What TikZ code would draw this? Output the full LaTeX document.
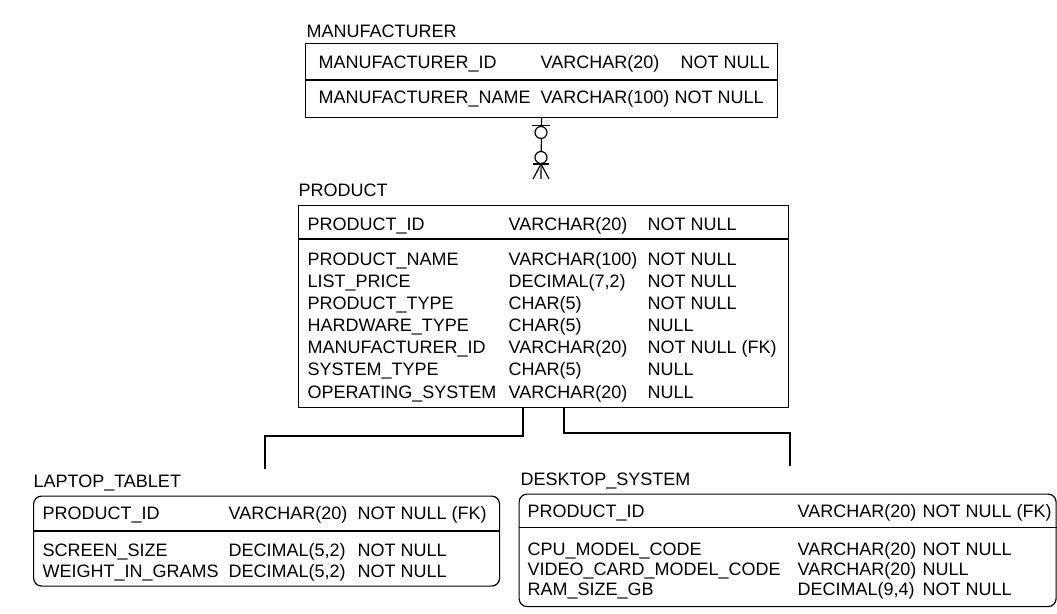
\documentclass[tikz,border=0pt]{standalone}
\usepackage{fontspec}
\setmainfont{Liberation Sans}
\begin{document}
\begin{tikzpicture}[x=1pt,y=-1pt,line width=1.2pt,
  every node/.style={font=\fontsize{18}{22}\selectfont,inner sep=0pt},
  txt/.style={anchor=base west},
  tablebox/.style={draw,anchor=north west}]
\useasboundingbox (0,0) rectangle (1057,613);
% MANUFACTURER
\node[txt] (mfr-title) at (306,37.5) {MANUFACTURER};
\node[tablebox,minimum width=472pt,minimum height=74pt] (mfr) at (305,43) {};
\draw (mfr.west |- 0,80) -- (mfr.east |- 0,80);
\node[txt] (mfr-k1) at (318,68) {MANUFACTURER\_ID};
\node[txt] (mfr-k2) at (540,68) {VARCHAR(20)};
\node[txt] (mfr-k3) at (680,68) {NOT NULL};
\node[txt] (mfr-a1) at (318,103.5) {MANUFACTURER\_NAME};
\node[txt] (mfr-a2) at (540,103.5) {VARCHAR(100)};
\node[txt] (mfr-a3) at (674,103.5) {NOT NULL};
% PRODUCT
\node[txt] (prod-title) at (298,196.5) {PRODUCT};
\node[tablebox,minimum width=490pt,minimum height=202pt] (prod) at (298,205) {};
\draw (prod.west |- 0,239) -- (prod.east |- 0,239);
\node[txt] (prod-k1) at (307,230) {PRODUCT\_ID};
\node[txt] (prod-k2) at (508,230) {VARCHAR(20)};
\node[txt] (prod-k3) at (647,230) {NOT NULL};
\foreach \n/\t/\s [count=\i] in {PRODUCT\_NAME/VARCHAR(100)/NOT NULL,%
  LIST\_PRICE/{DECIMAL(7,2)}/NOT NULL,%
  PRODUCT\_TYPE/CHAR(5)/NOT NULL,%
  HARDWARE\_TYPE/CHAR(5)/NULL,%
  MANUFACTURER\_ID/VARCHAR(20)/NOT NULL (FK),%
  SYSTEM\_TYPE/CHAR(5)/NULL,%
  OPERATING\_SYSTEM/VARCHAR(20)/NULL}{
  \pgfmathsetmacro\yb{265+22.17*(\i-1)}
  \node[txt] (prod-a\i) at (307,\yb) {\n};
  \node[txt] (prod-b\i) at (508,\yb) {\t};
  \node[txt] (prod-c\i) at (647,\yb) {\s};
}
% one-to-many, MANUFACTURER to PRODUCT
\coordinate (crow) at (541,179);
\draw (mfr.south) -- (crow);
\draw (532,125.5) -- (550,125.5);
\draw[fill=white] (541,132.5) circle (6pt) (541,157.5) circle (6pt);
\draw (533,164) -- (549,164);
\draw (533,179) -- (541,164) -- (549,179);
% subtypes
\coordinate (lapend) at (265,469);
\coordinate (deskend) at (790,466);
\draw (prod.south -| 523,0) -- (523,436) -| (lapend);
\draw (prod.south -| 564,0) -- (564,433) -| (deskend);
% LAPTOP_TABLET
\node[txt] (lap-title) at (33,487) {LAPTOP\_TABLET};
\node[tablebox,rounded corners=8pt,minimum width=466pt,minimum height=90pt] (lap) at (33,495.5) {};
\draw (lap.west |- 0,531) -- (lap.east |- 0,531);
\node[txt] (lap-k1) at (42,519.5) {PRODUCT\_ID};
\node[txt] (lap-k2) at (228,519.5) {VARCHAR(20)};
\node[txt] (lap-k3) at (357,519.5) {NOT NULL (FK)};
\foreach \n/\t/\s [count=\i] in {SCREEN\_SIZE/{DECIMAL(5,2)}/NOT NULL,%
  WEIGHT\_IN\_GRAMS/{DECIMAL(5,2)}/NOT NULL}{
  \pgfmathsetmacro\yb{556+21*(\i-1)}
  \node[txt] (lap-a\i) at (42,\yb) {\n};
  \node[txt] (lap-b\i) at (228,\yb) {\t};
  \node[txt] (lap-c\i) at (357,\yb) {\s};
}
% DESKTOP_SYSTEM
\node[txt] (desk-title) at (520,485) {DESKTOP\_SYSTEM};
\node[tablebox,rounded corners=8pt,minimum width=537pt,minimum height=112.5pt] (desk) at (518.5,493.5) {};
\draw (desk.west |- 0,527.5) -- (desk.east |- 0,527.5);
\node[txt] (desk-k1) at (527,517) {PRODUCT\_ID};
\node[txt] (desk-k2) at (797,517) {VARCHAR(20)};
\node[txt] (desk-k3) at (922,517) {NOT NULL (FK)};
\foreach \n/\t/\s [count=\i] in {CPU\_MODEL\_CODE/VARCHAR(20)/NOT NULL,%
  VIDEO\_CARD\_MODEL\_CODE/VARCHAR(20)/NULL,%
  RAM\_SIZE\_GB/{DECIMAL(9,4)}/NOT NULL}{
  \pgfmathsetmacro\yb{555+20*(\i-1)}
  \node[txt] (desk-a\i) at (527,\yb) {\n};
  \node[txt] (desk-b\i) at (797,\yb) {\t};
  \node[txt] (desk-c\i) at (922,\yb) {\s};
}
\end{tikzpicture}
\end{document}
